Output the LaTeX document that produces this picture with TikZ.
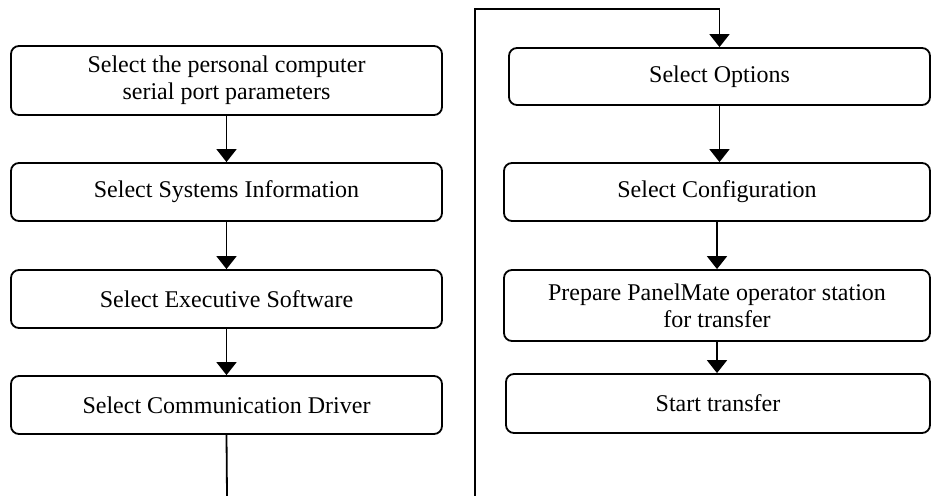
\documentclass[tikz,border=0pt]{standalone}
\usepackage{fontspec}
\setmainfont{Liberation Serif}
\usetikzlibrary{arrows.meta}

\begin{document}
\begin{tikzpicture}[x=0.5pt,y=-0.5pt,
  box/.style={draw,line width=0.9pt,rounded corners=4pt,align=center,inner sep=0pt,
    font=\fontsize{12}{13.6}\selectfont},
  arr/.style={line width=0.9pt,-{Triangle[width=10pt,length=6.5pt]}}]
\useasboundingbox (0,0) rectangle (932,496);
% left column
\node[box,minimum width=215.5pt,minimum height=34.5pt] (port) at (226.5,80.5) {Select the personal computer\\serial port parameters};
\node[box,minimum width=215.5pt,minimum height=29pt] (sysinfo) at (226.5,192) {Select Systems Information};
\node[box,minimum width=215.5pt,minimum height=29pt] (exec) at (226.5,299) {Select Executive Software};
\node[box,minimum width=215.5pt,minimum height=29pt] (driver) at (226.5,405) {Select Communication Driver};
% right column
\node[box,minimum width=210.5pt,minimum height=28.5pt] (opts) at (719.5,76.5) {Select Options};
\node[box,minimum width=213pt,minimum height=29pt] (config) at (717,192) {Select Configuration};
\node[box,minimum width=213pt,minimum height=35.5pt] (prep) at (717,305.5) {Prepare PanelMate operator station\\for transfer};
\node[box,minimum width=212pt,minimum height=29.5pt] (start) at (718,403.5) {Start transfer};
% page break ends
\coordinate (cutA) at (227,496);
\coordinate (cutB) at (475,496);
\coordinate (topB) at (475,9);

\draw[arr] (port.south) -- (port.south |- sysinfo.north);
\draw[arr] (sysinfo.south) -- (sysinfo.south |- exec.north);
\draw[arr] (exec.south) -- (exec.south |- driver.north);
\draw[line width=0.9pt] (driver.south) -- (cutA);

\draw[arr] (cutB) -- (topB) -| (opts.north);
\draw[arr] (opts.south) -- (opts.south |- config.north);
\draw[arr] (config.south) -- (config.south |- prep.north);
\draw[arr] (prep.south) -- (prep.south |- start.north);
\end{tikzpicture}
\end{document}
